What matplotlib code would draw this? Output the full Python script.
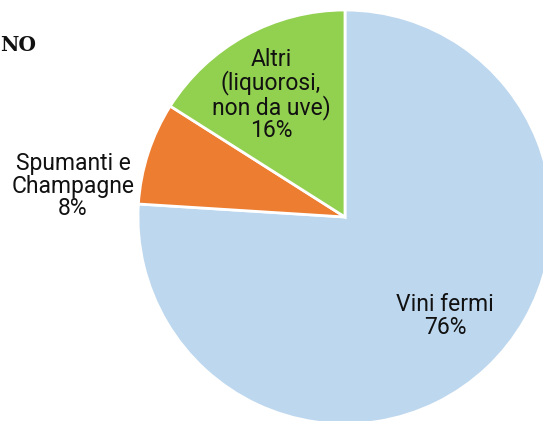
import matplotlib
matplotlib.use("Agg")
import matplotlib.pyplot as plt

categories = ["Vini fermi", "Spumanti e\nChampagne", "Altri\n(liquorosi,\nnon da uve)"]
values = [76, 8, 16]
colors = ["#bdd7ee", "#ed7d31", "#92d050"]

W, H = 543, 421
fig = plt.figure(figsize=(W / 100, H / 100), dpi=100)
ax = fig.add_axes([0, 0, 1, 1])

cx, cy, r = 345, H - 217, 207
ax.pie(values, colors=colors, startangle=90, counterclock=False,
       center=(cx, cy), radius=r, frame=True,
       wedgeprops=dict(edgecolor="white", linewidth=2))
ax.set_xlim(0, W)
ax.set_ylim(0, H)
ax.set_aspect("equal")
ax.axis("off")

font = "Roboto"
label_pos = [(445, H - 316), (73, H - 186), (271, H - 95)]
for cat, v, (x, y) in zip(categories, values, label_pos):
    ax.text(x, y, f"{cat}\n{v}%", ha="center", va="center", fontsize=16.5,
            family=font, color="#111111", linespacing=0.98)

fig.text(0, 1 - 45 / H, "NO", ha="left", va="center", fontsize=14.5,
         family="DejaVu Serif", fontweight="bold", color="#111111")

fig.savefig("out.png", dpi=100)
